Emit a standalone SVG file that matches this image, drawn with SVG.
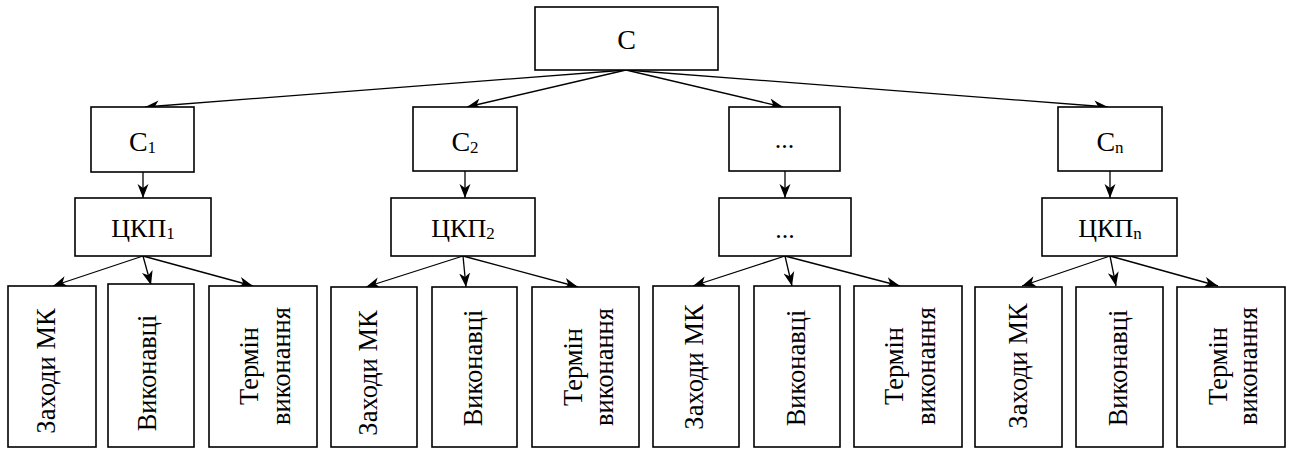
<svg xmlns="http://www.w3.org/2000/svg" width="1290" height="450" viewBox="0 0 1290 450">
<style>
  .box { fill: #fff; stroke: #000; stroke-width: 1.6; }
  .t { fill: #000; font-family: 'Liberation Serif', 'Times New Roman', serif; }
  .big { font-size: 28px; }
  .mid { font-size: 26px; }
  .v { font-size: 26.5px; }
  .sub { font-size: 17px; }
  .conn line { stroke: #000; stroke-width: 1.3; marker-end: url(#ah); }
</style>
<defs>
  <marker id="ah" markerUnits="userSpaceOnUse" markerWidth="16" markerHeight="12" refX="14" refY="6" orient="auto">
    <path d="M0,0.5 L14,6 L0,11.5 L4,6 Z" fill="#000"/>
  </marker>
</defs>
<rect width="1290" height="450" fill="#fff"/>

<g class="conn" id="connectors">
  <line x1="626" y1="70" x2="145" y2="107"/>
  <line x1="626" y1="70" x2="467" y2="107"/>
  <line x1="626" y1="70" x2="783" y2="107"/>
  <line x1="626" y1="70" x2="1108" y2="107"/>
  <line x1="143" y1="172" x2="143" y2="198"/>
  <line x1="465" y1="171" x2="465" y2="198"/>
  <line x1="785" y1="171" x2="785" y2="198"/>
  <line x1="1110" y1="171" x2="1110" y2="198"/>
  <line x1="143" y1="256" x2="53" y2="286"/>
  <line x1="143" y1="256" x2="151" y2="285"/>
  <line x1="143" y1="256" x2="253" y2="286"/>
  <line x1="463" y1="256" x2="366" y2="287"/>
  <line x1="463" y1="256" x2="466" y2="287"/>
  <line x1="463" y1="256" x2="578" y2="287"/>
  <line x1="785" y1="256" x2="693" y2="286"/>
  <line x1="785" y1="256" x2="792" y2="286"/>
  <line x1="785" y1="256" x2="900" y2="286"/>
  <line x1="1110" y1="256" x2="1022" y2="286"/>
  <line x1="1110" y1="256" x2="1116" y2="286"/>
  <line x1="1110" y1="256" x2="1218" y2="286"/>
</g>

<g id="C">
  <rect class="box" x="535" y="7" width="183" height="63"/>
  <text class="t big" x="626.5" y="49" text-anchor="middle">C</text>
</g>

<g id="C1">
  <rect class="box" x="91" y="107" width="103" height="65"/>
  <text class="t big" x="142.5" y="151" text-anchor="middle">C<tspan class="sub" dy="2">1</tspan></text>
</g>
<g id="CKP1">
  <rect class="box" x="75" y="198" width="136" height="58"/>
  <text class="t mid" x="143" y="237" text-anchor="middle">ЦКП<tspan class="sub" dy="2">1</tspan></text>
</g>
<g id="g1-zahody">
  <rect class="box" x="8" y="286" width="88" height="161"/>
  <text class="t v" transform="translate(55,371) rotate(-90)" text-anchor="middle">Заходи МК</text>
</g>
<g id="g1-vykonavtsi">
  <rect class="box" x="108" y="284" width="86" height="163"/>
  <text class="t v" transform="translate(156,373) rotate(-90)" text-anchor="middle">Виконавці</text>
</g>
<g id="g1-termin">
  <rect class="box" x="209" y="286" width="108" height="161"/>
  <text class="t v" transform="translate(258,366) rotate(-90)" text-anchor="middle">Термін</text>
  <text class="t v" transform="translate(290,366) rotate(-90)" text-anchor="middle">виконання</text>
</g>

<g id="C2">
  <rect class="box" x="413" y="107" width="104" height="64"/>
  <text class="t big" x="465" y="151" text-anchor="middle">C<tspan class="sub" dy="2">2</tspan></text>
</g>
<g id="CKP2">
  <rect class="box" x="391" y="198" width="144" height="58"/>
  <text class="t mid" x="463" y="237" text-anchor="middle">ЦКП<tspan class="sub" dy="2">2</tspan></text>
</g>
<g id="g2-zahody">
  <rect class="box" x="331" y="287" width="86" height="160"/>
  <text class="t v" transform="translate(377,373) rotate(-90)" text-anchor="middle">Заходи МК</text>
</g>
<g id="g2-vykonavtsi">
  <rect class="box" x="432" y="287" width="85" height="160"/>
  <text class="t v" transform="translate(482,368) rotate(-90)" text-anchor="middle">Виконавці</text>
</g>
<g id="g2-termin">
  <rect class="box" x="532" y="287" width="107" height="160"/>
  <text class="t v" transform="translate(582,367) rotate(-90)" text-anchor="middle">Термін</text>
  <text class="t v" transform="translate(613,367) rotate(-90)" text-anchor="middle">виконання</text>
</g>

<g id="C3">
  <rect class="box" x="729" y="107" width="111" height="64"/>
  <text class="t mid" x="784.5" y="148" text-anchor="middle">...</text>
</g>
<g id="CKP3">
  <rect class="box" x="719" y="198" width="132" height="58"/>
  <text class="t mid" x="785" y="238" text-anchor="middle">...</text>
</g>
<g id="g3-zahody">
  <rect class="box" x="653" y="286" width="86" height="161"/>
  <text class="t v" transform="translate(703,367) rotate(-90)" text-anchor="middle">Заходи МК</text>
</g>
<g id="g3-vykonavtsi">
  <rect class="box" x="754" y="286" width="86" height="161"/>
  <text class="t v" transform="translate(805,368) rotate(-90)" text-anchor="middle">Виконавці</text>
</g>
<g id="g3-termin">
  <rect class="box" x="854" y="286" width="108" height="161"/>
  <text class="t v" transform="translate(903,366) rotate(-90)" text-anchor="middle">Термін</text>
  <text class="t v" transform="translate(935,366) rotate(-90)" text-anchor="middle">виконання</text>
</g>

<g id="Cn">
  <rect class="box" x="1058" y="107" width="104" height="64"/>
  <text class="t big" x="1110" y="151" text-anchor="middle">C<tspan class="sub" dy="2">n</tspan></text>
</g>
<g id="CKPn">
  <rect class="box" x="1042" y="198" width="135" height="58"/>
  <text class="t mid" x="1110" y="237" text-anchor="middle">ЦКП<tspan class="sub" dy="2">n</tspan></text>
</g>
<g id="g4-zahody">
  <rect class="box" x="975" y="287" width="87" height="160"/>
  <text class="t v" transform="translate(1027,366) rotate(-90)" text-anchor="middle">Заходи МК</text>
</g>
<g id="g4-vykonavtsi">
  <rect class="box" x="1076" y="287" width="87" height="160"/>
  <text class="t v" transform="translate(1127,368) rotate(-90)" text-anchor="middle">Виконавці</text>
</g>
<g id="g4-termin">
  <rect class="box" x="1177" y="287" width="108" height="160"/>
  <text class="t v" transform="translate(1227,366) rotate(-90)" text-anchor="middle">Термін</text>
  <text class="t v" transform="translate(1257,366) rotate(-90)" text-anchor="middle">виконання</text>
</g>
</svg>
